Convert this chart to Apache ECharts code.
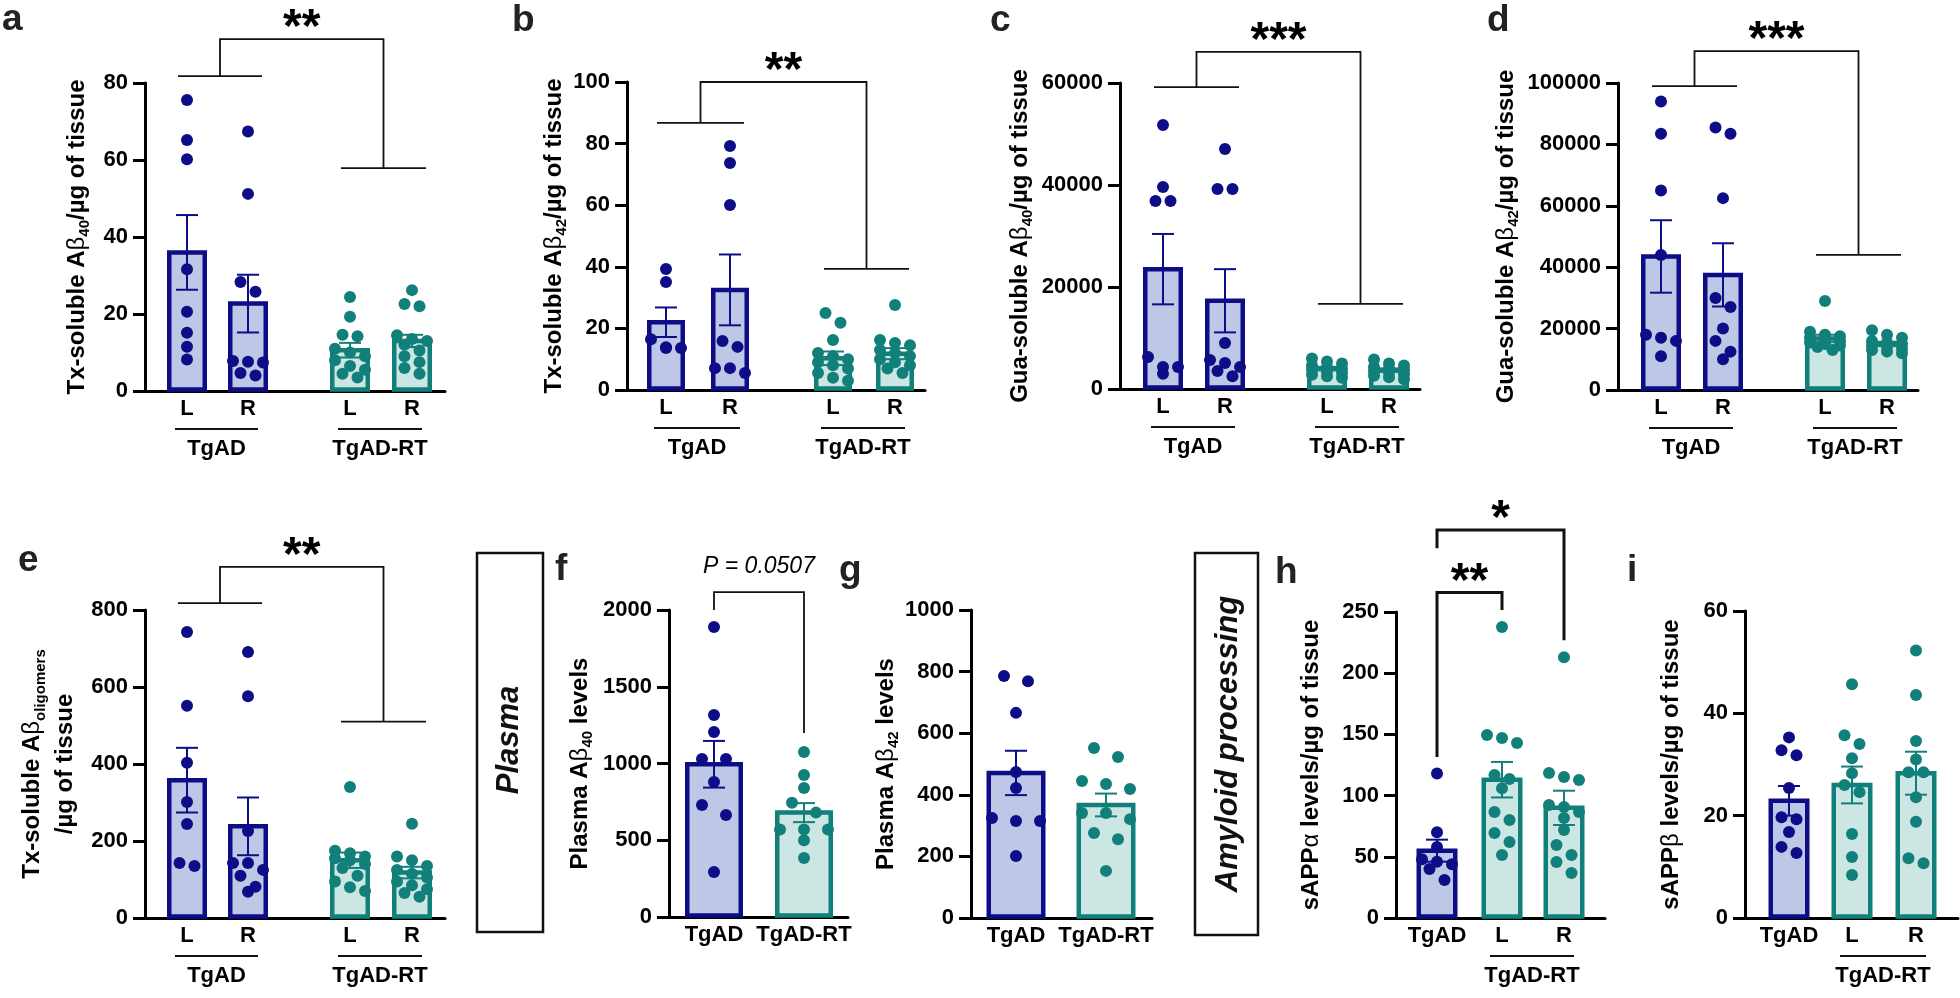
<!DOCTYPE html>
<html><head><meta charset="utf-8">
<script src="https://cdn.jsdelivr.net/npm/echarts@6/dist/echarts.min.js"></script>
<style>html,body{margin:0;padding:0;background:#fff}#c{width:1960px;height:998px}</style>
</head><body><div id="c"></div>
<script>
// ================= DATA =================
// a: Tx-soluble Abeta40
const aLabels = ['L', 'R', 'L', 'R'];
const aMean = [36.0, 22.7, 10.6, 13.0];
const aSem = [9.7, 7.5, 1.9, 1.6];
const aDots = [
  [75.6, 65.2, 60.2, 31.6, 20.6, 15.1, 11.5, 8.2],
  [67.4, 51.2, 28.3, 25.8, 7.8, 7.6, 7.4, 4.7, 4.0],
  [24.4, 19.3, 14.6, 14.2, 11.0, 10.0, 9.0, 8.0, 6.5, 5.5, 4.5, 3.5],
  [26.2, 22.6, 22.0, 14.5, 13.5, 13.0, 12.0, 10.5, 9.0, 7.5, 6.0, 4.5]
];
// b: Tx-soluble Abeta42
const bLabels = ['L', 'R', 'L', 'R'];
const bMean = [22.0, 32.5, 10.3, 11.8];
const bSem = [4.8, 11.5, 2.2, 1.8];
const bDots = [
  [39.3, 35.1, 16.5, 13.9, 13.6, 13.6],
  [79.2, 73.7, 60.1, 15.9, 14.0, 7.1, 7.1, 5.5],
  [25.0, 21.8, 16.2, 12.0, 11.0, 10.0, 9.0, 8.0, 7.0, 5.5, 4.0, 3.0],
  [27.6, 16.2, 15.3, 14.5, 13.0, 12.0, 11.0, 10.0, 9.0, 8.0, 7.0, 5.5]
];
// c: Gua-soluble Abeta40
const cLabels = ['L', 'R', 'L', 'R'];
const cMean = [23500, 17300, 4000, 3700];
const cSem = [6900, 6200, 350, 350];
const cDots = [
  [51765, 39608, 36863, 36863, 6275, 4314, 4314, 3000],
  [47059, 39216, 39216, 9020, 5686, 5098, 4314, 3529, 2500],
  [6000, 5400, 5000, 4600, 4300, 4000, 3800, 3500, 3200, 2800, 2500, 2200],
  [5800, 5000, 4600, 4300, 4000, 3700, 3500, 3200, 2900, 2600, 2300, 1900]
];
// d: Gua-soluble Abeta42
const dLabels = ['L', 'R', 'L', 'R'];
const dMean = [43500, 37500, 16800, 15000];
const dSem = [11800, 10300, 1200, 700];
const dDots = [
  [94000, 83500, 65000, 44000, 18000, 17000, 16000, 11000],
  [85500, 83500, 62500, 30000, 27000, 20000, 16000, 12500, 10000],
  [29000, 19000, 18000, 17500, 17000, 16500, 16000, 15500, 15000, 14500, 14000, 13000],
  [19500, 18000, 17000, 16000, 15500, 15000, 14500, 14000, 13500, 13000, 12500, 12000]
];
// e: Tx-soluble Abeta oligomers
const eLabels = ['L', 'R', 'L', 'R'];
const eMean = [358, 238, 150, 118];
const eSem = [84, 75, 20, 15];
const eDots = [
  [743, 551, 403, 301, 244, 143, 135],
  [691, 576, 226, 143, 143, 125, 110, 81, 68],
  [340, 175, 168, 160, 155, 150, 140, 130, 110, 95, 80, 70],
  [245, 160, 150, 135, 125, 115, 105, 95, 85, 75, 65, 55]
];
// f: Plasma Abeta40
const fLabels = ['TgAD', 'TgAD-RT'];
const fMean = [995, 680];
const fSem = [152, 62];
const fDots = [
  [1889, 1316, 1205, 1029, 1029, 880, 730, 665, 293],
  [1075, 925, 840, 745, 680, 570, 570, 570, 500, 385]
];
// g: Plasma Abeta42
const gLabels = ['TgAD', 'TgAD-RT'];
const gMean = [471, 367];
const gSem = [72, 37];
const gDots = [
  [786, 769, 666, 474, 422, 325, 315, 315, 201],
  [552, 523, 445, 435, 419, 341, 341, 321, 276, 256, 153]
];
// h: sAPPalpha
const hLabels = ['TgAD', 'L', 'R'];
const hMean = [55, 113, 90];
const hSem = [9, 14.5, 14];
const hDots = [
  [118, 70, 58, 48, 46, 44, 40, 31],
  [237.7, 149.5, 147, 143, 116.8, 113.6, 106, 86.6, 80, 69.4, 62, 51.5],
  [213, 118.5, 115.2, 112.7, 92.3, 90.7, 86.6, 81.7, 71.9, 59.6, 51.5, 45.8, 36.8]
];
// i: sAPPbeta
const iLabels = ['TgAD', 'L', 'R'];
const iMean = [22.9, 26.0, 28.3];
const iSem = [2.9, 3.6, 4.2];
const iDots = [
  [35.3, 32.8, 31.8, 25.4, 19.7, 19.3, 16.8, 13.9, 12.7],
  [45.7, 35.7, 34.0, 31.2, 28.3, 26.0, 24.6, 16.4, 11.9, 8.4],
  [52.3, 43.6, 34.6, 31.0, 28.5, 28.5, 23.6, 18.8, 11.7, 10.7]
];
// axis titles
const titles = {
  a: 'Tx-soluble A{g|β}{s|40}/µg of tissue',
  b: 'Tx-soluble A{g|β}{s|42}/µg of tissue',
  c: 'Gua-soluble A{g|β}{s|40}/µg of tissue',
  d: 'Gua-soluble A{g|β}{s|42}/µg of tissue',
  e: 'Tx-soluble A{g|β}{s|oligomers}\n/µg of tissue',
  f: 'Plasma A{g|β}{s|40} levels',
  g: 'Plasma A{g|β}{s|42} levels',
  h: 'sAPP{g|α} levels/µg of tissue',
  i: 'sAPP{g|β} levels/µg of tissue'
};

// ================= STYLE / LAYOUT =================
const FONT = '"Liberation Sans", Arial, Helvetica, sans-serif';
const COLORS = {
  tg: { line: '#0d0d87', fill: '#bec7e6' },
  rt: { line: '#12807a', fill: '#cce6e3' }
};
const G4 = ['tg', 'tg', 'rt', 'rt'];
const GR4 = [{ from: 0, to: 1, text: 'TgAD' }, { from: 2, to: 3, text: 'TgAD-RT' }];

const panels = [
  { k: 'a', axisX: 145, top: 83, zero: 391, xmax: 300, slots: [42, 103, 205, 267], barW: 40, step: 15,
    max: 80, interval: 20, grp: G4, labels: aLabels, mean: aMean, sem: aSem, dots: aDots, nameGap: 56,
    groups: GR4, brackets: [{ kind: 'pair', yA: 81.8, yB: 57.9, yTop: 91.4, text: '**' }] },
  { k: 'b', axisX: 627, top: 82, zero: 390, xmax: 298, slots: [39, 103, 206, 268], barW: 38, step: 15,
    max: 100, interval: 20, grp: G4, labels: bLabels, mean: bMean, sem: bSem, dots: bDots, nameGap: 61,
    groups: GR4, brackets: [{ kind: 'pair', yA: 86.7, yB: 39.3, yTop: 100, text: '**' }] },
  { k: 'c', axisX: 1120, top: 83, zero: 389, xmax: 300, slots: [43, 105, 207, 269], barW: 40, step: 15,
    max: 60000, interval: 20000, grp: G4, labels: cLabels, mean: cMean, sem: cSem, dots: cDots, nameGap: 88,
    groups: GR4, brackets: [{ kind: 'pair', yA: 59200, yB: 16700, yTop: 66100, text: '***' }] },
  { k: 'd', axisX: 1618, top: 83, zero: 390, xmax: 300, slots: [43, 105, 207, 269], barW: 40, step: 15,
    max: 100000, interval: 20000, grp: G4, labels: dLabels, mean: dMean, sem: dSem, dots: dDots, nameGap: 100,
    groups: GR4, brackets: [{ kind: 'pair', yA: 99000, yB: 44000, yTop: 110400, text: '***' }] },
  { k: 'e', axisX: 145, top: 610, zero: 918, xmax: 300, slots: [42, 103, 205, 267], barW: 40, step: 15,
    max: 800, interval: 200, grp: G4, labels: eLabels, mean: eMean, sem: eSem, dots: eDots, nameGap: 63, twoLine: true,
    groups: GR4, brackets: [{ kind: 'pair', yA: 818, yB: 510, yTop: 912, text: '**' }] },
  { k: 'f', axisX: 669, top: 610, zero: 917, xmax: 179, slots: [45, 135], barW: 58, step: 24,
    max: 2000, interval: 500, grp: ['tg', 'rt'], labels: fLabels, mean: fMean, sem: fSem, dots: fDots, nameGap: 77,
    brackets: [{ kind: 'simple', from: 0, to: 1, yFrom: 2000, yTop: 2117, yTo: 1199, text: 'P = 0.0507', italic: true, lw: 1.8 }] },
  { k: 'g', axisX: 971, top: 610, zero: 918, xmax: 181, slots: [45, 135], barW: 59, step: 24,
    max: 1000, interval: 200, grp: ['tg', 'rt'], labels: gLabels, mean: gMean, sem: gSem, dots: gDots, nameGap: 73 },
  { k: 'h', axisX: 1396, top: 612, zero: 918, xmax: 209, slots: [41, 106, 168], barW: 41, step: 15,
    max: 250, interval: 50, grp: ['tg', 'rt', 'rt'], labels: hLabels, mean: hMean, sem: hSem, dots: hDots, nameGap: 73,
    groups: [{ from: 1, to: 2, text: 'TgAD-RT' }],
    brackets: [{ kind: 'simple', from: 0, to: 1, yFrom: 131.5, yTop: 266, yTo: 251.6, text: '**', lw: 3 },
               { kind: 'simple', from: 0, to: 2, yFrom: 302, yTop: 317, yTo: 227, text: '*', lw: 3 }] },
  { k: 'i', axisX: 1745, top: 611, zero: 918, xmax: 213, slots: [44, 107, 171], barW: 41, step: 15,
    max: 60, interval: 20, grp: ['tg', 'rt', 'rt'], labels: iLabels, mean: iMean, sem: iSem, dots: iDots, nameGap: 62,
    groups: [{ from: 1, to: 2, text: 'TgAD-RT' }] }
];

const DOT_R = 6;
const LAB_FONT = 'bold 22px ' + FONT;

// beeswarm-like arrangement of dots (rows of close values spread sideways)
function swarm(ys, r, step) {
  const order = ys.map((y, i) => i).sort((p, q) => ys[p] - ys[q]);
  const off = new Array(ys.length).fill(0);
  let row = [], rowY = null;
  const flush = () => { row.forEach((idx, k) => { off[idx] = (k - (row.length - 1) / 2) * step; }); row = []; };
  order.forEach(idx => {
    if (rowY === null || ys[idx] - rowY >= 2 * r * 0.95 || row.length >= 3) { flush(); rowY = ys[idx]; }
    row.push(idx);
  });
  flush();
  return off;
}

function makeBarRender(P) {
  return function (params, api) {
    const i = params.dataIndex;
    const col = COLORS[P.grp[i]];
    const x = P.slots[i];
    const base = api.coord([x, 0]);
    const top = api.coord([x, P.mean[i]]);
    const cx = base[0], lw = 4.5, w = P.barW;
    const kids = [{
      type: 'rect',
      shape: { x: cx - w / 2 + lw / 2, y: top[1], width: w - lw, height: base[1] - top[1] - 1.5 },
      style: { fill: col.fill, stroke: col.line, lineWidth: lw }
    }];
    const ys = P.dots[i].map(v => api.coord([x, v])[1]);
    const off = swarm(ys, DOT_R, P.step);
    ys.forEach((y, j) => kids.push({ type: 'circle', shape: { cx: cx + off[j], cy: y, r: DOT_R }, style: { fill: col.line } }));
    const yT = api.coord([x, P.mean[i] + P.sem[i]])[1];
    const yB = api.coord([x, P.mean[i] - P.sem[i]])[1];
    const cw = 11;
    [[cx, yT, cx, yB], [cx - cw, yT, cx + cw, yT], [cx - cw, yB, cx + cw, yB]].forEach(s => kids.push({
      type: 'line', shape: { x1: s[0], y1: s[1], x2: s[2], y2: s[3] }, style: { stroke: col.line, lineWidth: 2 }
    }));
    return { type: 'group', children: kids };
  };
}

function txt(text, x, y, font, va) {
  return { type: 'text', style: { text: text, x: x, y: y, font: font, fill: '#000', textAlign: 'center', textVerticalAlign: va || 'middle' } };
}
function poly(pts, w) {
  return { type: 'polyline', shape: { points: pts }, style: { stroke: '#111', lineWidth: w, fill: null } };
}

function makeAnnoRender(P) {
  return function (params, api) {
    const kids = [];
    const zero = api.coord([0, 0])[1];
    const X = i => api.coord([P.slots[i], 0])[0];
    const Y = v => api.coord([0, v])[1];
    P.labels.forEach((t, i) => kids.push(txt(t, X(i), zero + 18, LAB_FONT)));
    (P.groups || []).forEach(g => {
      const x1 = X(g.from) - 12, x2 = X(g.to) + 10;
      kids.push(poly([[x1, zero + 38], [x2, zero + 38]], 2));
      kids.push(txt(g.text, (x1 + x2) / 2, zero + 58, LAB_FONT));
    });
    (P.brackets || []).forEach(b => {
      if (b.kind === 'pair') {
        const a1 = X(0) - 9, a2 = X(1) + 14, b1 = X(2) - 9, b2 = X(3) + 14;
        const ma = (a1 + a2) / 2, mb = (b1 + b2) / 2;
        const yA = Y(b.yA), yB = Y(b.yB), yT = Y(b.yTop);
        kids.push(poly([[a1, yA], [a2, yA]], 1.8));
        kids.push(poly([[b1, yB], [b2, yB]], 1.8));
        kids.push(poly([[ma, yA], [ma, yT], [mb, yT], [mb, yB]], 1.8));
        kids.push(txt(b.text, (ma + mb) / 2, yT - 10, 'bold 48px ' + FONT));
      } else {
        const x1 = X(b.from), x2 = X(b.to);
        const yF = Y(b.yFrom), yT = Y(b.yTop), yE = Y(b.yTo);
        kids.push(poly([[x1, yF], [x1, yT], [x2, yT], [x2, yE]], b.lw));
        if (b.italic) kids.push(txt(b.text, (x1 + x2) / 2, yT - 25, 'italic 23px ' + FONT));
        else kids.push(txt(b.text, (x1 + x2) / 2, yT - 10, 'bold 48px ' + FONT));
      }
    });
    return { type: 'group', children: kids };
  };
}

const subStyle = { fontFamily: FONT, fontWeight: 'bold', fontSize: 15, color: '#000', padding: [16, 0, 0, 0], lineHeight: 15 };

const option = {
  animation: false,
  backgroundColor: '#fff',
  grid: panels.map(P => ({ left: P.axisX, top: P.top, width: P.xmax, height: P.zero - P.top, outerBoundsMode: 'none', containLabel: false })),
  xAxis: panels.map((P, k) => ({
    type: 'value', gridIndex: k, min: 0, max: P.xmax,
    axisLine: { show: true, onZero: false, lineStyle: { color: '#000', width: 3 } },
    axisTick: { show: false }, axisLabel: { show: false }, splitLine: { show: false }
  })),
  yAxis: panels.map((P, k) => ({
    type: 'value', gridIndex: k, min: 0, max: P.max, interval: P.interval,
    axisLine: { show: true, lineStyle: { color: '#000', width: 3 } },
    axisTick: { show: true, length: 12, lineStyle: { color: '#000', width: 3 } },
    axisLabel: { margin: 17, color: '#000', fontFamily: FONT, fontWeight: 'bold', fontSize: 22, formatter: v => String(v) },
    splitLine: { show: false },
    name: titles[P.k], nameLocation: 'middle', nameGap: P.nameGap, nameRotate: 90, nameMoveOverlap: false,
    nameTextStyle: {
      color: '#000', fontFamily: FONT, fontWeight: 'bold', fontSize: 24, lineHeight: P.twoLine ? 33 : undefined,
      rich: {
        g: { fontFamily: FONT, fontWeight: 'normal', fontSize: 24, color: '#000' },
        s: subStyle
      }
    }
  })),
  series: [].concat(...panels.map((P, k) => [
    { type: 'custom', xAxisIndex: k, yAxisIndex: k, clip: false, silent: true, z: 3,
      data: P.mean.map((m, i) => [P.slots[i], m]), renderItem: makeBarRender(P) },
    { type: 'custom', xAxisIndex: k, yAxisIndex: k, clip: false, silent: true, z: 4,
      data: [[0, 0]], renderItem: makeAnnoRender(P) }
  ])),
  graphic: [
    ...[['a', 2, 32], ['b', 512, 33], ['c', 990, 33], ['d', 1487, 33], ['e', 18, 573],
        ['f', 555, 582], ['g', 839, 583], ['h', 1275, 585], ['i', 1627, 583]].map(L => ({
      type: 'text', x: L[1], y: L[2] + 6,
      style: { text: L[0], font: 'bold 37px ' + FONT, fill: '#222', textAlign: 'left', textVerticalAlign: 'bottom' }
    })),
    { type: 'rect', shape: { x: 477, y: 553, width: 66, height: 379 }, style: { fill: 'none', stroke: '#111', lineWidth: 2.5 } },
    { type: 'text', x: 509, y: 740, rotation: Math.PI / 2,
      style: { text: 'Plasma', font: 'italic bold 31px ' + FONT, fill: '#111', textAlign: 'center', textVerticalAlign: 'middle' } },
    { type: 'rect', shape: { x: 1195, y: 553, width: 63, height: 382 }, style: { fill: 'none', stroke: '#111', lineWidth: 2.5 } },
    { type: 'text', x: 1228, y: 744, rotation: Math.PI / 2,
      style: { text: 'Amyloid processing', font: 'italic bold 31px ' + FONT, fill: '#111', textAlign: 'center', textVerticalAlign: 'middle' } }
  ]
};

const chart = echarts.init(document.getElementById('c'), null, { renderer: 'canvas' });
chart.setOption(option);
</script>
</body></html>
